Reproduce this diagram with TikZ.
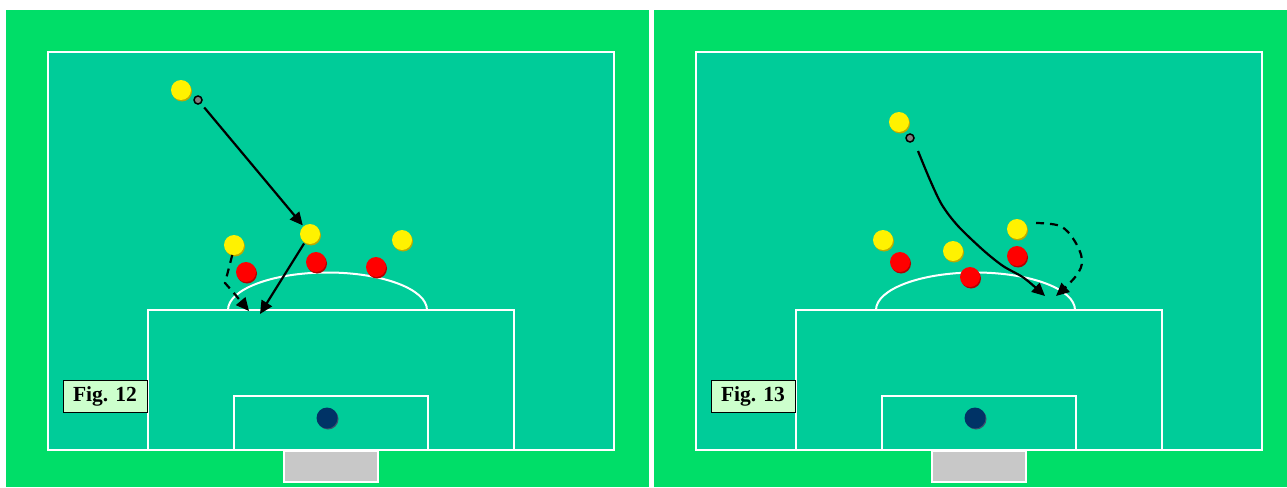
\documentclass[tikz,border=0pt]{standalone}
\usepackage{fontspec}
\setmainfont{Liberation Serif}
\usetikzlibrary{arrows.meta,shadows}
\definecolor{grass}{RGB}{0,222,104}
\definecolor{pitch}{RGB}{0,204,153}
\definecolor{goalgray}{RGB}{200,200,200}
\definecolor{keeperblue}{RGB}{0,51,102}
\definecolor{keepershade}{RGB}{60,80,110}
\definecolor{lblfill}{RGB}{204,255,204}
\definecolor{yshade}{RGB}{190,170,0}
\definecolor{rshade}{RGB}{180,0,0}
\definecolor{ballgray}{RGB}{128,128,128}
\begin{document}
\begin{tikzpicture}[x=1pt,y=-1pt,
  fieldline/.style={draw=white,line width=2pt},
  yel/.style={circle,inner sep=0pt,minimum size=20pt,fill=yellow,
    drop shadow={shadow xshift=1pt,shadow yshift=-1.5pt,fill=yshade,opacity=1}},
  redp/.style={circle,inner sep=0pt,minimum size=20pt,fill=red,
    drop shadow={shadow xshift=1pt,shadow yshift=-1.5pt,fill=rshade,opacity=1}},
  keeper/.style={circle,inner sep=0pt,minimum size=21pt,fill=keeperblue,
    drop shadow={shadow xshift=1pt,shadow yshift=-1pt,fill=keepershade,opacity=1}},
  ballnode/.style={circle,inner sep=0pt,minimum size=8pt,fill=ballgray,draw=black,line width=1.5pt},
  pass/.style={draw=black,line width=2.2pt,-{Triangle[length=13pt,width=12pt]}},
  run/.style={pass,dash pattern=on 8pt off 6pt},
  figlbl/.style={draw=black,line width=0.7pt,fill=lblfill,minimum width=84pt,minimum height=32pt,
    inner sep=0pt,font=\bfseries\fontsize{21.5}{23}\selectfont}
]
\useasboundingbox[fill=white] (0,0) rectangle (1287,487);
% green panels
\fill[grass] (6,10) rectangle (649,487);
\fill[grass] (654,10) rectangle (1287,487);
% pitches
\foreach \dx in {0,648}{
\begin{scope}[xshift=\dx pt]
  \filldraw[fill=pitch,fieldline] (48,52) rectangle (614,450);
  \draw[fieldline] (228,310) arc[start angle=180,end angle=360,x radius=99.5,y radius=37.5];
  \draw[fieldline] (148,450) -- (148,310) -- (514,310) -- (514,450);
  \draw[fieldline] (234,450) -- (234,396) -- (428,396) -- (428,450);
  \filldraw[fill=goalgray,fieldline] (284,451) rectangle (378,482);
\end{scope}
}
% keepers
\node[keeper] (k1) at (327,418) {};
\node[keeper] (k2) at (975,418) {};
% labels
\node[figlbl] (f12) at (105,396) {Fig. 12};
\node[figlbl] (f13) at (753,396) {Fig. 13};

% ---- Fig. 12 ----
\node[yel] (a1) at (181,90) {};
\node[ballnode] (b1) at (198,100) {};
\node[yel] (a2) at (310,234) {};
\node[yel] (a3) at (234,245) {};
\node[yel] (a4) at (402,240) {};
\node[redp] (r1) at (246,272) {};
\node[redp] (r2) at (316,262) {};
\node[redp] (r3) at (376,267) {};
\coordinate (t1) at (260,314);
\coordinate (t2) at (249,311);
\draw[pass,shorten <=5pt,shorten >=1pt] (b1) -- (a2);
\draw[pass,shorten <=1pt] (a2) -- (t1);
\draw[run] (a3.-100) -- (225,283) -- (233,292) -- (t2);

% ---- Fig. 13 ----
\node[yel] (c1) at (899,122) {};
\node[ballnode] (b2) at (910,138) {};
\node[yel] (c2) at (883,240) {};
\node[yel] (c3) at (953,251) {};
\node[yel] (c4) at (1017,229) {};
\node[redp] (s1) at (900,262) {};
\node[redp] (s2) at (970,277) {};
\node[redp] (s3) at (1017,256) {};
\coordinate (u0) at (918,151);
\coordinate (u1) at (1045,296);
\coordinate (v0) at (1036,223);
\coordinate (v1) at (1056,296);
\draw[pass] plot[smooth,tension=0.5] coordinates {(u0) (930,180) (942,205) (958,226) (983,250) (1003,266) (1024,278) (u1)};
\draw[run] plot[smooth,tension=0.6] coordinates {(v0) (1060,226) (1074,240) (1082,260) (1076,276) (v1)};
\end{tikzpicture}
\end{document}
